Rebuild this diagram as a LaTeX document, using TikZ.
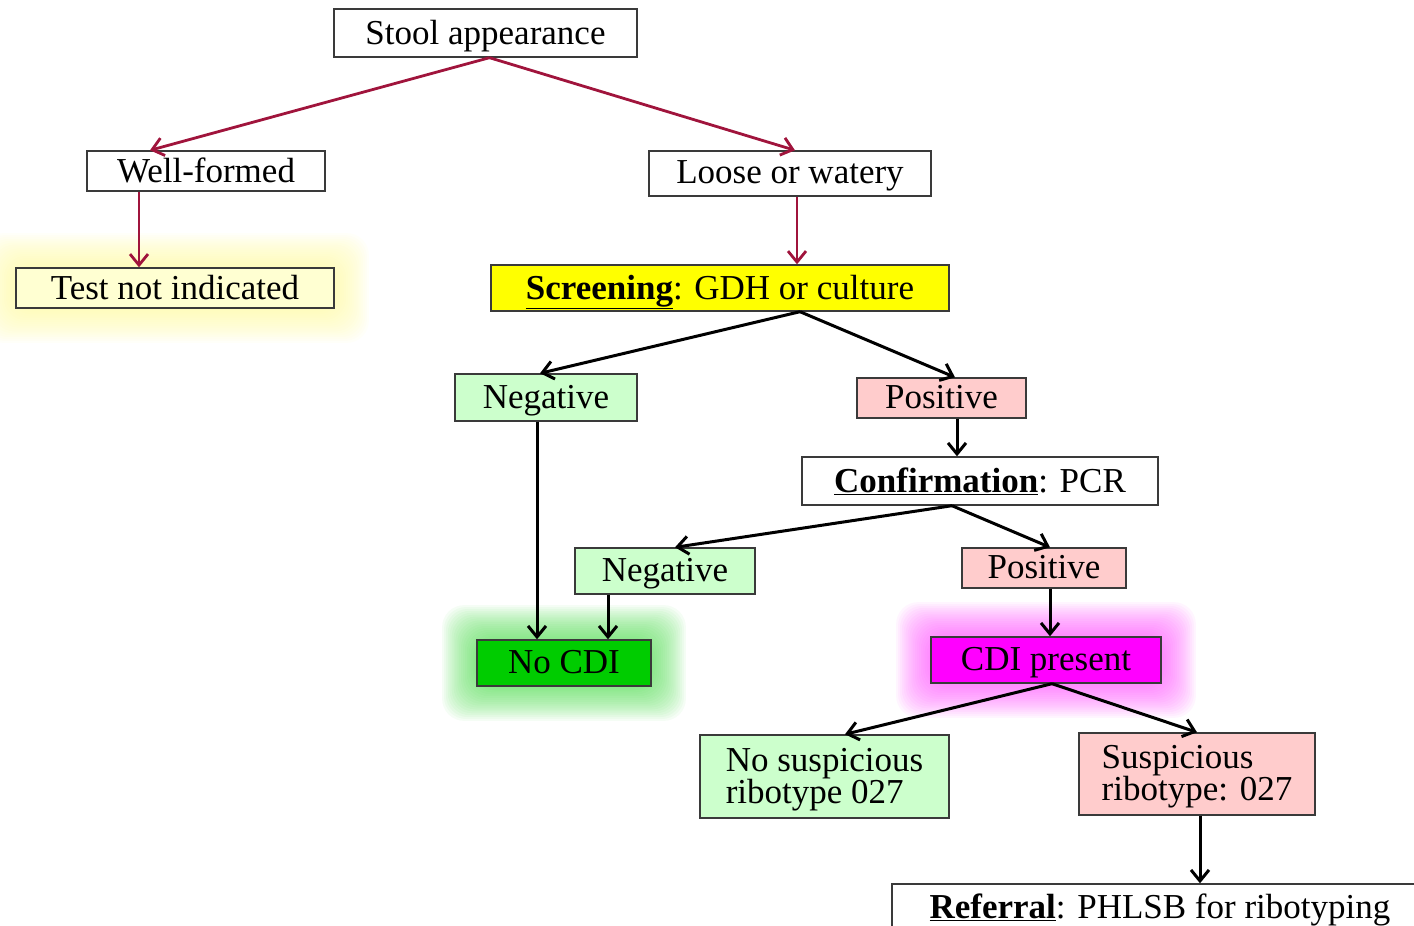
\documentclass[tikz,border=0pt]{standalone}
\usepackage{fontspec}
\setmainfont{Liberation Serif}
\usetikzlibrary{arrows.meta,backgrounds}
\definecolor{Crimson}{HTML}{A0143C}
\definecolor{PaleGreen}{HTML}{CCFFCC}
\definecolor{PalePink}{HTML}{FFCCCC}
\definecolor{PaleYellow}{HTML}{FFFFD2}
\definecolor{Lemon}{HTML}{FFFF00}
\definecolor{Grass}{HTML}{00CC00}
\definecolor{Fuchsia}{HTML}{FF00FF}
\definecolor{Edge}{HTML}{3A3A3A}
\newcommand{\glowbox}[2]{%
  \foreach \k in {1,...,18}{%
    \fill[#2,opacity=0.055,rounded corners=22pt] ([shift={(-1.9*\k,1.9*\k)}]#1.south west) rectangle ([shift={(1.9*\k,-1.9*\k)}]#1.north east);}}

\begin{document}
\begin{tikzpicture}[x=1pt,y=-1pt,font=\fontsize{35}{32}\selectfont,box/.style={draw=Edge,line width=1.4pt,fill=white,inner sep=0pt,minimum height=40pt,align=center,text depth=2pt},greenbox/.style={box,fill=PaleGreen},pinkbox/.style={box,fill=PalePink},redarrow/.style={-{Straight Barb[length=11pt,width=18pt]},line width=2.8pt,draw=Crimson},blackarrow/.style={-{Straight Barb[length=11pt,width=18pt]},line width=3pt,draw=black}]
\clip (0,0) rectangle (1414,926);
\node[box,minimum width=303pt,minimum height=48pt] (stool) at (485.5,33) {Stool appearance};
\node[box,minimum width=238pt] (well) at (206,171) {Well-formed};
\node[box,minimum width=282pt,minimum height=45pt] (loose) at (790,173.5) {Loose or watery};
\node[box,fill=PaleYellow,minimum width=318pt] (testni) at (175,288) {Test not indicated};
\node[box,fill=Lemon,minimum width=458pt,minimum height=46pt] (screen) at (720,288) {\underline{\textbf{Screening}}: GDH or culture};
\node[greenbox,minimum width=182pt,minimum height=47pt] (neg1) at (546,397.5) {Negative};
\node[pinkbox,minimum width=169pt] (pos1) at (941.5,398) {Positive};
\node[box,minimum width=356pt,minimum height=48pt] (confirm) at (980,481) {\underline{\textbf{Confirmation}}: PCR};
\node[greenbox,minimum width=180pt,minimum height=46pt] (neg2) at (665,571) {Negative};
\node[pinkbox,minimum width=164pt] (pos2) at (1044,568) {Positive};
\node[box,fill=Grass,minimum width=174pt,minimum height=46pt] (nocdi) at (564,663) {No CDI};
\node[box,fill=Fuchsia,minimum width=230pt,minimum height=46pt] (cdi) at (1046,660) {CDI present};
\node[greenbox,minimum width=249pt,minimum height=83pt,align=left] (nosusp) at (824.5,776.5) {No suspicious\\ribotype 027};
\node[pinkbox,minimum width=236pt,minimum height=82pt,align=left] (susp) at (1197,774) {Suspicious\\ribotype: 027};
\node[box,minimum width=536pt,minimum height=46pt] (refer) at (1160,907) {\underline{\textbf{Referral}}: PHLSB for ribotyping};
% glows
\begin{scope}[on background layer]
\glowbox{testni}{yellow!40}
\glowbox{nocdi}{Grass!70}
\glowbox{cdi}{Fuchsia!70}
\end{scope}
% stool appearance branches
\draw[redarrow] ([xshift=4pt]stool.south) -- ([xshift=-56pt]well.north);
\draw[redarrow] ([xshift=4pt]stool.south) -- ([xshift=5pt]loose.north);
\draw[redarrow] ([xshift=-67pt]well.south) -- ([xshift=-36pt]testni.north);
\draw[redarrow] ([xshift=7pt]loose.south) -- ([xshift=77pt]screen.north);
% screening
\draw[blackarrow] ([xshift=80pt]screen.south) -- ([xshift=-6pt]neg1.north);
\draw[blackarrow] ([xshift=80pt]screen.south) -- ([xshift=13.5pt]pos1.north);
\draw[blackarrow] ([xshift=15.5pt]pos1.south) -- ([xshift=-23pt]confirm.north);
% confirmation
\draw[blackarrow] ([xshift=-28pt]confirm.south) -- ([xshift=10pt]neg2.north);
\draw[blackarrow] ([xshift=-28pt]confirm.south) -- ([xshift=6pt]pos2.north);
\draw[blackarrow] ([xshift=-9pt]neg1.south) -- ([xshift=-27pt]nocdi.north);
\draw[blackarrow] ([xshift=-57pt]neg2.south) -- ([xshift=44pt]nocdi.north);
\draw[blackarrow] ([xshift=6pt]pos2.south) -- ([xshift=4pt]cdi.north);
% ribotype
\draw[blackarrow] ([xshift=6pt]cdi.south) -- ([xshift=20.5pt]nosusp.north);
\draw[blackarrow] ([xshift=6pt]cdi.south) -- (susp.north);
\draw[blackarrow] ([xshift=3pt]susp.south) -- ([xshift=40pt]refer.north);
\end{tikzpicture}
\end{document}
